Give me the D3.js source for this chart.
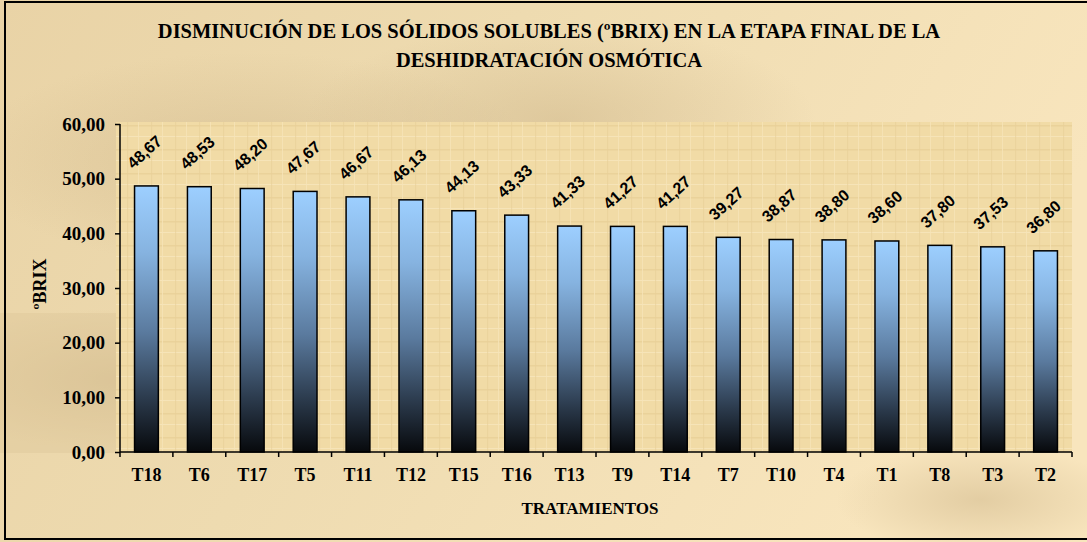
<!DOCTYPE html>
<html>
<head>
<meta charset="utf-8">
<script src="https://cdn.jsdelivr.net/npm/d3@7"></script>
<style>
  body { margin: 0; background: #f3e0b6; }
  #chart { width: 1087px; height: 542px; }
</style>
</head>
<body>
<div id="chart"></div>
<script>
var categories = ["T18", "T6", "T17", "T5", "T11", "T12", "T15", "T16", "T13", "T9", "T14", "T7", "T10", "T4", "T1", "T8", "T3", "T2"];
var values = [48.67, 48.53, 48.20, 47.67, 46.67, 46.13, 44.13, 43.33, 41.33, 41.27, 41.27, 39.27, 38.87, 38.80, 38.60, 37.80, 37.53, 36.80];
var yTicks = [0, 10, 20, 30, 40, 50, 60];
var titleLines = ["DISMINUCIÓN DE LOS SÓLIDOS SOLUBLES (ºBRIX) EN LA ETAPA FINAL DE LA", "DESHIDRATACIÓN OSMÓTICA"];

render();

function render() {
  var W = 1087, H = 542;
  var left = 120, right = 1072, top = 124, bottom = 452;
  var fmt = function (v) { return d3.format(".2f")(v).replace(".", ","); };

  var svg = d3.select("#chart").append("svg")
    .attr("width", W)
    .attr("height", H);

  var defs = svg.append("defs");

  // parchment background
  var bg = defs.append("linearGradient").attr("id", "bg")
    .attr("x1", 0).attr("y1", 0).attr("x2", 1).attr("y2", 0.3);
  bg.append("stop").attr("offset", 0).attr("stop-color", "#e9d3a6");
  bg.append("stop").attr("offset", 0.45).attr("stop-color", "#eedbb0");
  bg.append("stop").attr("offset", 1).attr("stop-color", "#f8e5bd");

  var blot = defs.append("radialGradient").attr("id", "blot");
  blot.append("stop").attr("offset", 0).attr("stop-color", "#c9b083").attr("stop-opacity", 0.45);
  blot.append("stop").attr("offset", 1).attr("stop-color", "#c9b083").attr("stop-opacity", 0);

  // papyrus texture for plot area
  var pat = defs.append("pattern").attr("id", "papyrus")
    .attr("patternUnits", "userSpaceOnUse")
    .attr("width", 24).attr("height", 24);
  pat.append("rect").attr("width", 24).attr("height", 24).attr("fill", "#f1dba6");
  pat.append("rect").attr("x", 0).attr("y", 5).attr("width", 24).attr("height", 1.5).attr("fill", "#e6cc92").attr("opacity", 0.6);
  pat.append("rect").attr("x", 0).attr("y", 16).attr("width", 24).attr("height", 1).attr("fill", "#f7e6bd").attr("opacity", 0.8);
  pat.append("rect").attr("x", 7).attr("y", 0).attr("width", 1.2).attr("height", 24).attr("fill", "#e8cf97").attr("opacity", 0.6);
  pat.append("rect").attr("x", 18).attr("y", 0).attr("width", 1).attr("height", 24).attr("fill", "#f6e4b8").attr("opacity", 0.8);

  var barGrad = defs.append("linearGradient").attr("id", "barGrad")
    .attr("x1", 0).attr("y1", 0).attr("x2", 0).attr("y2", 1);
  barGrad.append("stop").attr("offset", 0).attr("stop-color", "#9dcfff");
  barGrad.append("stop").attr("offset", 0.25).attr("stop-color", "#86b3e0");
  barGrad.append("stop").attr("offset", 0.55).attr("stop-color", "#5a7a9e");
  barGrad.append("stop").attr("offset", 0.8).attr("stop-color", "#2b3a4c");
  barGrad.append("stop").attr("offset", 1).attr("stop-color", "#07090c");

  svg.append("rect").attr("width", W).attr("height", H).attr("fill", "url(#bg)");
  [[250, 160, 180], [120, 380, 120], [560, 120, 160], [980, 500, 90], [700, 300, 140]].forEach(function (b) {
    svg.append("ellipse").attr("cx", b[0]).attr("cy", b[1])
      .attr("rx", b[2] * 1.6).attr("ry", b[2] * 0.6)
      .attr("fill", "url(#blot)");
  });
  svg.append("rect").attr("x", 0).attr("y", 313).attr("width", 116).attr("height", 140)
    .attr("fill", "#d9c296").attr("opacity", 0.35);

  var x = d3.scaleBand()
    .domain(categories)
    .range([left, right])
    .paddingInner(0.55)
    .paddingOuter(0.275);

  var y = d3.scaleLinear()
    .domain([0, 60])
    .range([bottom, top]);

  // plot area
  svg.append("rect")
    .attr("x", left - 4).attr("y", top - 2)
    .attr("width", right - left + 4).attr("height", bottom - top + 2)
    .attr("fill", "url(#papyrus)");

  svg.selectAll(".bar")
    .data(values)
    .enter().append("rect")
    .attr("class", "bar")
    .attr("x", function (d, i) { return x(categories[i]); })
    .attr("y", function (d) { return y(d); })
    .attr("width", x.bandwidth())
    .attr("height", function (d) { return y(0) - y(d); })
    .attr("fill", "url(#barGrad)")
    .attr("stroke", "#000")
    .attr("stroke-width", 1.5);

  svg.selectAll(".lbl")
    .data(values)
    .enter().append("text")
    .attr("class", "lbl")
    .attr("transform", function (d, i) {
      var cx = x(categories[i]) + x.bandwidth() / 2 - 2;
      var cy = y(d) - 34;
      return "translate(" + cx + "," + cy + ") rotate(-42)";
    })
    .attr("text-anchor", "middle")
    .attr("dy", "0.35em")
    .style("font-family", "Liberation Sans, Arial, sans-serif")
    .style("font-weight", "bold")
    .style("font-size", "16px")
    .attr("fill", "#000")
    .text(fmt);

  // y axis
  var yAxis = svg.append("g")
    .attr("transform", "translate(" + left + ",0)")
    .call(d3.axisLeft(y).tickValues(yTicks).tickSize(5).tickPadding(10).tickFormat(fmt));
  yAxis.selectAll("path, line").attr("stroke", "#000").attr("stroke-width", 1.5);
  yAxis.select(".domain").attr("d", "M0," + top + "V" + bottom);
  yAxis.selectAll("text")
    .style("font-family", "Liberation Serif, Times New Roman, serif")
    .style("font-weight", "bold")
    .style("font-size", "19px")
    .attr("fill", "#000");

  // x axis
  var xAxis = svg.append("g")
    .attr("transform", "translate(0," + bottom + ")")
    .call(d3.axisBottom(x).tickSize(0).tickPadding(16));
  xAxis.select(".domain").attr("stroke", "#000").attr("stroke-width", 1.5)
    .attr("d", "M" + left + ",0H" + right);
  xAxis.selectAll("text")
    .style("font-family", "Liberation Serif, Times New Roman, serif")
    .style("font-weight", "bold")
    .style("font-size", "18px")
    .attr("fill", "#000");
  var edges = d3.range(categories.length + 1).map(function (i) { return left + i * x.step(); });
  xAxis.selectAll(".edge")
    .data(edges)
    .enter().append("line")
    .attr("class", "edge")
    .attr("x1", function (d) { return d; }).attr("x2", function (d) { return d; })
    .attr("y1", 0).attr("y2", 5)
    .attr("stroke", "#000").attr("stroke-width", 1.5);

  // titles
  svg.selectAll(".title")
    .data(titleLines)
    .enter().append("text")
    .attr("class", "title")
    .attr("x", 549)
    .attr("y", function (d, i) { return 38 + i * 29; })
    .attr("text-anchor", "middle")
    .style("font-family", "Liberation Serif, Times New Roman, serif")
    .style("font-weight", "bold")
    .style("font-size", "20.5px")
    .attr("fill", "#000")
    .text(function (d) { return d; });

  svg.append("text")
    .attr("transform", "translate(46,284) rotate(-90)")
    .attr("text-anchor", "middle")
    .style("font-family", "Liberation Serif, Times New Roman, serif")
    .style("font-weight", "bold")
    .style("font-size", "18px")
    .text("ºBRIX");

  svg.append("text")
    .attr("x", 590)
    .attr("y", 514)
    .attr("text-anchor", "middle")
    .style("font-family", "Liberation Serif, Times New Roman, serif")
    .style("font-weight", "bold")
    .style("font-size", "17px")
    .text("TRATAMIENTOS");

  // frame
  svg.append("rect")
    .attr("x", 5).attr("y", 2)
    .attr("width", W).attr("height", 537)
    .attr("fill", "none")
    .attr("stroke", "#000")
    .attr("stroke-width", 2);
}
</script>
</body>
</html>
